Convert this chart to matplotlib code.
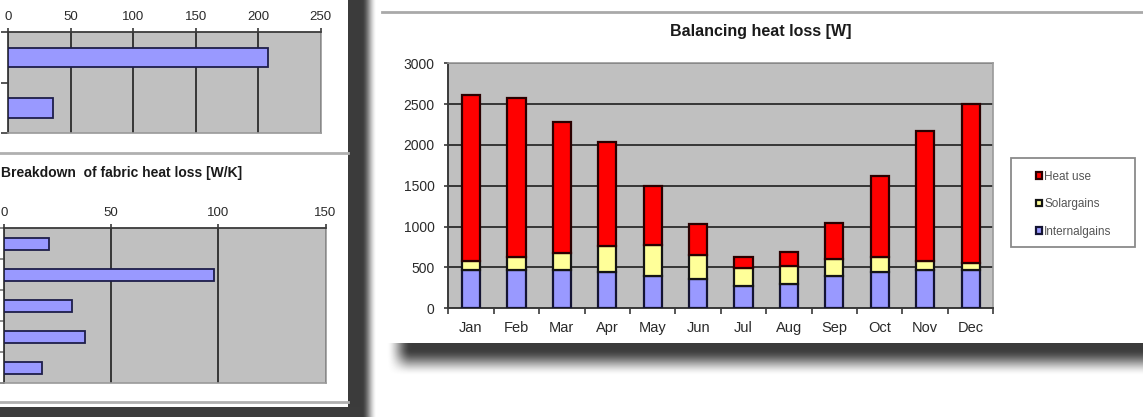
import numpy as np
import matplotlib
matplotlib.use("Agg")
import matplotlib.pyplot as plt
from matplotlib.patches import Rectangle

plt.rcParams['font.family'] = ['Liberation Sans', 'DejaVu Sans']

# ---- data -------------------------------------------------------------
months = ["Jan", "Feb", "Mar", "Apr", "May", "Jun",
          "Jul", "Aug", "Sep", "Oct", "Nov", "Dec"]
internal_gains = [469, 473, 469, 441, 396, 359, 277, 294, 396, 441, 469, 469]
solar_gains = [110, 150, 205, 325, 375, 295, 215, 230, 210, 185, 105, 80]
heat_use = [2030, 1950, 1610, 1265, 730, 375, 140, 160, 435, 990, 1600, 1950]
series_labels = ["Internalgains", "Solargains", "Heat use"]
chart_title = "Balancing heat loss [W]"

summary_values = [208, 35.5]
summary_ticks = [0, 50, 100, 150, 200, 250]

fabric_values = [21, 98, 32, 38, 18]
fabric_ticks = [0, 50, 100, 150]
fabric_title = "Breakdown  of fabric heat loss [W/K]"

# ---- figure & pixel helpers -------------------------------------------
W, H = 1143, 417
fig = plt.figure(figsize=(W / 100, H / 100), dpi=100)
fig.patch.set_facecolor("white")


def px_axes(x0, y0, x1, y1, **kw):
    return fig.add_axes([x0 / W, 1 - y1 / H, (x1 - x0) / W, (y1 - y0) / H], **kw)


def fx(x):
    return x / W


def fy(y):
    return 1 - y / H


# background layer for panel frames and drop shadows
bg = px_axes(0, 0, W, H)
bg.set_xlim(0, W)
bg.set_ylim(H, 0)
bg.axis("off")
shadow_rgb = np.array([0.235, 0.235, 0.235])


def smooth(t):
    t = np.clip(t, 0, 1)
    return t * t * (3 - 2 * t)


def shade(alpha, extent):
    img = np.zeros(alpha.shape + (4,))
    img[..., :3] = shadow_rgb
    img[..., 3] = alpha
    bg.imshow(img, extent=extent, aspect="auto", interpolation="bilinear", zorder=1)


# shadow to the right of the left panel
xs = np.linspace(348, 378, 60)
a = 1 - smooth((xs - 362) / 15)
shade(np.tile(a, (4, 1)), (348, 378, H, 0))
# dark strip under the left panel
bg.add_patch(Rectangle((0, 406.5), 362, 11, color=shadow_rgb, zorder=1, lw=0))

# shadow under the main panel
ys = np.linspace(343, 377, 70)
xs2 = np.linspace(386, W, 400)
av = 1 - smooth((ys - 349) / 27)
ah = smooth((xs2 - 386) / 24)
shade(np.outer(av, ah), (386, W, 377, 343))

# panel rules
bg.plot([382, W], [12, 12], color="#a9a9a9", lw=2, zorder=2)
bg.plot([0, 348], [152.5, 152.5], color="#b0b0b0", lw=2, zorder=2)
bg.plot([0, 348], [401.5, 401.5], color="#b0b0b0", lw=2, zorder=2)

GRID = "#363636"
SPINE_DARK = "#3a3a3a"
SPINE_LIGHT = "#9a9a9a"
TXT = "#2a2a2a"

# ---- main stacked column chart ----------------------------------------
ax = px_axes(448.3, 63.3, 993.3, 308.3)
ax.set_facecolor("#c0c0c0")
x = np.arange(len(months))
bw = 0.4
base2 = np.array(internal_gains) + np.array(solar_gains)
b1 = ax.bar(x, internal_gains, bw, color="#9999ff", edgecolor="#141433", lw=1.6,
            label=series_labels[0], zorder=3)
b2 = ax.bar(x, solar_gains, bw, bottom=internal_gains, color="#ffff99",
            edgecolor="#141414", lw=1.6, label=series_labels[1], zorder=3)
b3 = ax.bar(x, heat_use, bw, bottom=base2, color="#ff0000", edgecolor="#2a0000",
            lw=1.6, label=series_labels[2], zorder=3)
ax.set_xlim(-0.5, len(months) - 0.5)
ax.set_ylim(0, 3000)
ax.set_yticks(range(0, 3001, 500))
ax.yaxis.grid(True, color=GRID, lw=1.4)
ax.set_axisbelow(True)
ax.set_xticks(x, months)
ax.set_xticks(np.arange(-0.5, len(months)), minor=True)
ax.tick_params(axis="x", which="major", length=0, pad=9, labelsize=10.5, labelcolor=TXT)
ax.tick_params(axis="x", which="minor", length=4, width=1.2, color=SPINE_DARK)
ax.tick_params(axis="y", length=3, width=1.2, color=SPINE_DARK, pad=7,
               labelsize=10, labelcolor=TXT)
for s in ("left", "bottom"):
    ax.spines[s].set_color(SPINE_DARK)
    ax.spines[s].set_linewidth(1.4)
for s in ("top", "right"):
    ax.spines[s].set_color(SPINE_LIGHT)
    ax.spines[s].set_linewidth(1.2)

fig.text(fx(761), fy(31.7), chart_title, ha="center", va="center",
         fontsize=11.5, fontweight="bold", color="#1a1a1a")

# legend box
fig.add_artist(Rectangle((fx(1010.7), fy(246.7)), fx(1135) - fx(1010.7),
                         fy(158) - fy(246.7), transform=fig.transFigure,
                         facecolor="white", edgecolor="#8a8a8a", lw=1.3, zorder=4))
leg = fig.legend([b3, b2, b1], [series_labels[2], series_labels[1], series_labels[0]],
                 loc="upper left", bbox_to_anchor=(fx(1030), fy(165)),
                 frameon=False, fontsize=8.5, handlelength=0.5, handleheight=0.5,
                 handletextpad=0.2, labelspacing=1.3, borderpad=0,
                 labelcolor="#555555")
leg.set_zorder(5)

# ---- upper left horizontal bar chart ------------------------------------
ax1 = px_axes(8.3, 32.3, 320.7, 133.3)
ax1.set_facecolor("#c0c0c0")
ax1.barh(np.arange(len(summary_values)), summary_values, 0.38, color="#9999ff",
         edgecolor="#1e1e4a", lw=1.3, zorder=3)
ax1.set_xlim(0, 250)
ax1.set_ylim(len(summary_values) - 0.5, -0.5)
ax1.set_xticks(summary_ticks)
ax1.xaxis.tick_top()
ax1.xaxis.grid(True, color=GRID, lw=1.4)
ax1.set_axisbelow(True)
ax1.set_yticks([])
ax1.set_yticks(np.arange(-0.5, len(summary_values)), minor=True)
ax1.tick_params(axis="y", which="minor", length=5, width=1.2, color=SPINE_DARK)
ax1.tick_params(axis="x", length=3, width=1.2, color=SPINE_DARK, pad=4,
                labelsize=9.5, labelcolor=TXT)

# ---- lower left horizontal bar chart ------------------------------------
ax2 = px_axes(3.7, 228.3, 325.5, 383.3)
ax2.set_facecolor("#c0c0c0")
ax2.barh(np.arange(len(fabric_values)), fabric_values, 0.39, color="#9999ff",
         edgecolor="#1e1e4a", lw=1.3, zorder=3)
ax2.set_xlim(0, 150)
ax2.set_ylim(len(fabric_values) - 0.5, -0.5)
ax2.set_xticks(fabric_ticks)
ax2.xaxis.tick_top()
ax2.xaxis.grid(True, color=GRID, lw=1.4)
ax2.set_axisbelow(True)
ax2.set_yticks([])
ax2.set_yticks(np.arange(-0.5, len(fabric_values)), minor=True)
ax2.tick_params(axis="y", which="minor", length=4, width=1.2, color="#777777")
ax2.tick_params(axis="x", length=3, width=1.2, color=SPINE_DARK, pad=4,
                labelsize=9.5, labelcolor=TXT)

fig.text(fx(1), fy(173), fabric_title, ha="left", va="center",
         fontsize=10, fontweight="bold", color="#1a1a1a")

for a_ in (ax1, ax2):
    for s in ("left", "top"):
        a_.spines[s].set_color(SPINE_DARK)
        a_.spines[s].set_linewidth(1.3)
    for s in ("right", "bottom"):
        a_.spines[s].set_color(SPINE_LIGHT)
        a_.spines[s].set_linewidth(1.2)

fig.savefig("out.png", dpi=100)
